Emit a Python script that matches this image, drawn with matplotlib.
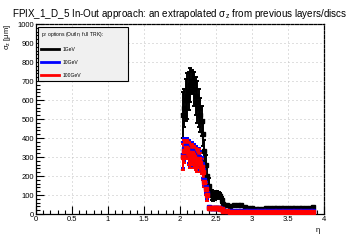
import matplotlib
matplotlib.use("Agg")
import matplotlib.pyplot as plt
from matplotlib.lines import Line2D
from matplotlib.ticker import MultipleLocator, FormatStrFormatter

plt.rcParams['font.family'] = ['Liberation Sans', 'DejaVu Sans']
plt.rcParams['mathtext.fontset'] = 'custom'
plt.rcParams['mathtext.rm'] = 'Liberation Sans'
plt.rcParams['mathtext.it'] = 'Liberation Sans:italic'

# eta bins
eta_core = [2.04, 2.06, 2.08, 2.10, 2.12, 2.14, 2.16, 2.18, 2.20, 2.22,
            2.24, 2.26, 2.28, 2.30, 2.32, 2.34, 2.36, 2.38, 2.40, 2.42,
            2.44, 2.46, 2.48, 2.50, 2.52, 2.54, 2.56, 2.58]
eta_tail = [2.60, 2.65, 2.70, 2.75, 2.80, 2.85, 2.90, 2.95, 3.00, 3.05,
            3.10, 3.15, 3.20, 3.25, 3.30, 3.35, 3.40, 3.45, 3.50, 3.55,
            3.60, 3.65, 3.70, 3.75, 3.80, 3.85]

# 1 GeV
sig_1_core = [520, 560, 600, 620, 650, 680, 700, 690, 660, 620,
              590, 560, 520, 490, 420, 330, 260, 200, 150, 120,
              100, 90, 95, 100, 105, 100, 95, 75]
err_1_core = [120, 100, 110, 120, 100, 90, 60, 60, 90, 100,
              110, 100, 90, 80, 60, 60, 50, 50, 40, 30,
              25, 20, 20, 20, 15, 15, 15, 15]
sig_1_tail = [55, 45, 42, 45, 50, 45, 38, 33, 30, 28,
              28, 28, 30, 32, 33, 34, 34, 33, 33, 32,
              32, 32, 32, 32, 33, 35]

# 10 GeV
sig_10_core = [310, 340, 360, 350, 330, 310, 330, 320, 310, 300,
               290, 300, 280, 260, 230, 180, 140, 110, 35, 33,
               33, 32, 32, 31, 31, 30, 30, 28]
err_10_core = [70, 60, 40, 50, 60, 60, 50, 50, 60, 60,
               60, 50, 50, 40, 40, 30, 30, 30, 8, 6,
               6, 6, 6, 5, 5, 5, 5, 5]
sig_10_tail = [20, 17, 15, 15, 15, 15, 15, 14, 14, 14,
               14, 14, 14, 14, 15, 15, 15, 15, 15, 15,
               15, 15, 15, 15, 15, 15]

# 100 GeV
sig_100_core = [300, 330, 350, 340, 320, 300, 320, 310, 300, 290,
                280, 290, 270, 250, 220, 170, 130, 100, 32, 30,
                30, 30, 30, 30, 29, 29, 28, 26]
err_100_core = [70, 60, 40, 50, 60, 60, 50, 50, 60, 60,
                60, 50, 50, 40, 40, 30, 30, 30, 8, 6,
                6, 6, 6, 5, 5, 5, 5, 5]
sig_100_tail = [18, 14, 12, 12, 12, 11, 11, 11, 11, 11,
                11, 11, 11, 11, 11, 11, 11, 11, 11, 11,
                11, 11, 11, 11, 11, 11]

tail_err = 8

fig = plt.figure(figsize=(3.6, 2.4), dpi=100)
ax = fig.add_axes([0.1, 0.1083, 0.8, 0.7917])

series = [
    ('1GeV', 'black', sig_1_core, err_1_core, sig_1_tail),
    ('10GeV', 'blue', sig_10_core, err_10_core, sig_10_tail),
    ('100GeV', 'red', sig_100_core, err_100_core, sig_100_tail),
]
handles = []
for name, col, sc, ec, st in series:
    ax.errorbar(eta_core, sc, yerr=ec, xerr=0.008, fmt='s', color=col,
                ms=2.2, lw=1.4, capsize=1.2, capthick=1.4, zorder=3)
    ax.errorbar(eta_tail, st, yerr=tail_err, xerr=0.025, fmt='s', color=col,
                ms=2.2, lw=1.6, capsize=0, zorder=3)
    handles.append(Line2D([], [], color=col, lw=2, label=name))

ax.set_xlim(0, 4)
ax.set_ylim(0, 1000)
ax.xaxis.set_major_locator(MultipleLocator(0.5))
ax.xaxis.set_minor_locator(MultipleLocator(0.1))
ax.xaxis.set_major_formatter(FormatStrFormatter('%g'))
ax.yaxis.set_major_locator(MultipleLocator(100))
ax.yaxis.set_minor_locator(MultipleLocator(20))
ax.tick_params(which='both', direction='in', top=False, right=False,
               labelsize=5.5, width=0.8, pad=1.5)
ax.tick_params(which='major', length=6)
ax.tick_params(which='minor', length=3)
ax.grid(True, which='major', color='#c0c0c0', ls=(0, (1, 3)), lw=0.72)
ax.spines['top'].set_linestyle((0, (2.5, 1.2)))
ax.spines['right'].set_linestyle((0, (2.5, 1.2)))
for s in ax.spines.values():
    s.set_linewidth(0.9)

ax.set_title('FPIX_1_D_5 In-Out approach: an extrapolated σ$_\\mathrm{z}$ from previous layers/discs',
             fontsize=7.1, pad=5)
ax.set_ylabel('σ$_\\mathrm{z}$ [μm]', fontsize=5.4, loc='top')
ax.yaxis.set_label_coords(-0.08, 1.0)
ax.set_xlabel('η', fontsize=5.5, loc='right')
ax.xaxis.set_label_coords(0.985, -0.07)

leg = ax.legend(handles=handles, title='p$_\\mathrm{T}$ options (OutIn, full TRK):',
                loc='upper left', bbox_to_anchor=(38 / 360, 1 - 80 / 240, 90 / 360, 53 / 240),
                bbox_transform=fig.transFigure, mode='expand', fontsize=3.6,
                title_fontsize=3.6, handlelength=3.6, handletextpad=0.8,
                labelspacing=1.6, borderaxespad=0, fancybox=False,
                framealpha=1, facecolor='#f0f0f0', edgecolor='black',
                alignment='left', borderpad=0.6)
leg.get_frame().set_linewidth(0.8)

fig.savefig('out.png', dpi=100)
